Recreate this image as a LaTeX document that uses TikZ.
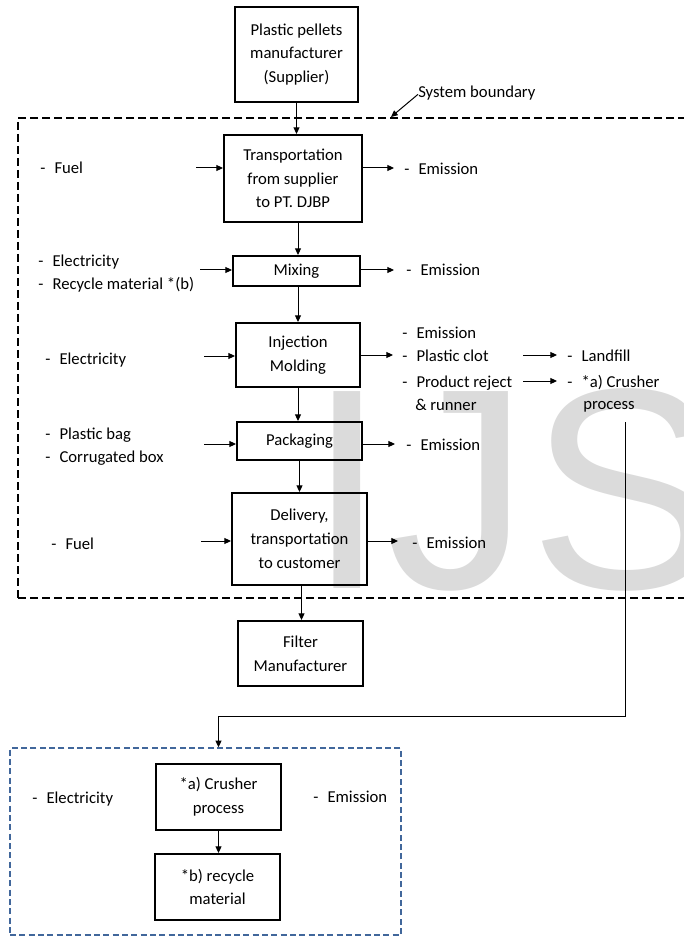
\documentclass[tikz,border=0pt]{standalone}
\usepackage{fontspec}
\setmainfont{Carlito}
\newfontfamily\wmfont{Liberation Sans}
\usetikzlibrary{arrows.meta,positioning,calc}
\newcommand{\itm}[1]{-\hspace{0.55em}#1}

\begin{document}
\begin{tikzpicture}[x=0.75pt,y=-0.75pt,
            every node/.style={font=\fontsize{12.5}{17.8}\selectfont},
            box/.style={draw,line width=1.5pt,align=center,inner sep=0pt},
            lbl/.style={anchor=west,inner sep=0pt,text height=0.65em,text depth=0.2em,yshift=-2.5pt},
            arr/.style={-{Triangle[length=5pt,width=4.5pt]},line width=0.75pt}]
            \def\px{0.75pt} % one pixel of the reference
            \useasboundingbox (0,0) rectangle (683,937);

            % watermark
            \node (wm) at (307,588) [anchor=base west,inner sep=0pt,text=black!14,
                font=\wmfont\fontsize{214.7}{214.7}\selectfont] {IJS};

            % boundaries
            \node (sysb) at (359,358) [draw,line width=1.5pt,dash pattern=on 6pt off 3pt,
                minimum width=682*\px,minimum height=480*\px,inner sep=0pt] {};
            \node (recb) at (205.5,841.5) [draw,line width=1.1pt,color={rgb,255:red,65;green,103;blue,155},
                dash pattern=on 4.5pt off 2.5pt,minimum width=391*\px,minimum height=187*\px,inner sep=0pt] {};
            \node (sblbl) at (418,91) [lbl] {System boundary};
            \coordinate (sbtip) at (391,117);
            \draw[arr] (sblbl.west) -- (sbtip);

            % main chain
            \node (sup) at (296.5,54.5) [box,minimum width=123*\px,minimum height=95*\px] {Plastic pellets\\manufacturer\\(Supplier)};
            \node (trans) at (293,178.5) [box,minimum width=138*\px,minimum height=87*\px] {Transportation\\from supplier\\to PT. DJBP};
            \node (mix) at (296.5,271) [box,minimum width=127*\px,minimum height=30*\px] {Mixing};
            \node (inj) at (298,355) [box,minimum width=124*\px,minimum height=64*\px] {Injection\\Molding};
            \node (pack) at (299.5,441) [box,minimum width=125*\px,minimum height=38*\px] {Packaging};
            \node (deliv) at (299.5,539) [box,minimum width=135*\px,minimum height=92*\px] {Delivery,\\transportation\\to customer};
            \node (filt) at (300.5,653.5) [box,minimum width=125*\px,minimum height=65*\px] {Filter\\Manufacturer};

            \draw[arr] (sup.south) -- (sup.south |- trans.north);
            \draw[arr] (trans.south) ++(5,0) coordinate (t1) -- (t1 |- mix.north);
            \draw[arr] (mix.south) ++(1.5,0) coordinate (m1) -- (m1 |- inj.north);
            \draw[arr] (inj.south) -- (inj.south |- pack.north);
            \draw[arr] (pack.south) -- (pack.south |- deliv.north);
            \draw[arr] (deliv.south) ++(2,0) coordinate (d1) -- (d1 |- filt.north);

            % inputs
            \node (fuel1) at (40,167) [lbl] {\itm{Fuel}};
            \node (elec1) at (38,260) [lbl] {\itm{Electricity}};
            \node (recm) at (38,283) [lbl] {\itm{Recycle material *(b)}};
            \node (elec2) at (45,358) [lbl] {\itm{Electricity}};
            \node (bag) at (45,433) [lbl] {\itm{Plastic bag}};
            \node (cbox) at (45,456) [lbl] {\itm{Corrugated box}};
            \node (fuel2) at (51,543) [lbl] {\itm{Fuel}};

            \coordinate (inT) at (196,168);
            \coordinate (inM) at (200,270);
            \coordinate (inI) at (204,356);
            \coordinate (inP) at (204,444);
            \coordinate (inD) at (201,541);
            \draw[arr] (inT) -- (inT -| trans.west);
            \draw[arr] (inM) -- (inM -| mix.west);
            \draw[arr] (inI) -- (inI -| inj.west);
            \draw[arr] (inP) -- (inP -| pack.west);
            \draw[arr] (inD) -- (inD -| deliv.west);

            % outputs
            \node (emT) at (404,168) [lbl] {\itm{Emission}};
            \node (emM) at (406,269) [lbl] {\itm{Emission}};
            \node (emI) at (402,332) [lbl] {\itm{Emission}};
            \node (clot) at (402,355) [lbl] {\itm{Plastic clot}};
            \node (rej) at (402,381) [lbl] {\itm{Product reject}};
            \node (runr) at (415,404) [lbl] {\& runner};
            \node (land) at (567,355) [lbl] {\itm{Landfill}};
            \node (crsh) at (567,381) [lbl] {\itm{*a) Crusher}};
            \node (proc) at (583,403) [lbl] {process};
            \node (emP) at (406,444) [lbl] {\itm{Emission}};
            \node (emD) at (412,542) [lbl] {\itm{Emission}};

            \coordinate (outT) at (394,168);
            \coordinate (outM) at (394,270);
            \coordinate (outI) at (393,355);
            \coordinate (outP) at (395,444);
            \coordinate (outD) at (398,541);
            \draw[arr] (outT -| trans.east) -- (outT);
            \draw[arr] (outM -| mix.east) -- (outM);
            \draw[arr] (outI -| inj.east) -- (outI);
            \draw[arr] (outP -| pack.east) -- (outP);
            \draw[arr] (outD -| deliv.east) -- (outD);

            \coordinate (clA) at (523,355);
            \coordinate (clB) at (557,355);
            \coordinate (rjA) at (523,381);
            \coordinate (rjB) at (557,381);
            \draw[arr] (clA) -- (clB);
            \draw[arr] (rjA) -- (rjB);

            % recycling loop
            \node (crush) at (218.5,797) [box,minimum width=125*\px,minimum height=66*\px] {*a) Crusher\\process};
            \node (recyc) at (217.5,887) [box,minimum width=125*\px,minimum height=66*\px] {*b) recycle\\material};
            \node (elec3) at (32,797) [lbl] {\itm{Electricity}};
            \node (emC) at (313,796) [lbl] {\itm{Emission}};
            \draw[arr] (crush.south) -- (crush.south |- recyc.north);

            \coordinate (fbA) at (625,422);
            \coordinate (fbB) at (625,716);
            \draw[arr] (fbA) -- (fbB) -| (crush.north |- recb.north);

        \end{tikzpicture}
\end{document}
